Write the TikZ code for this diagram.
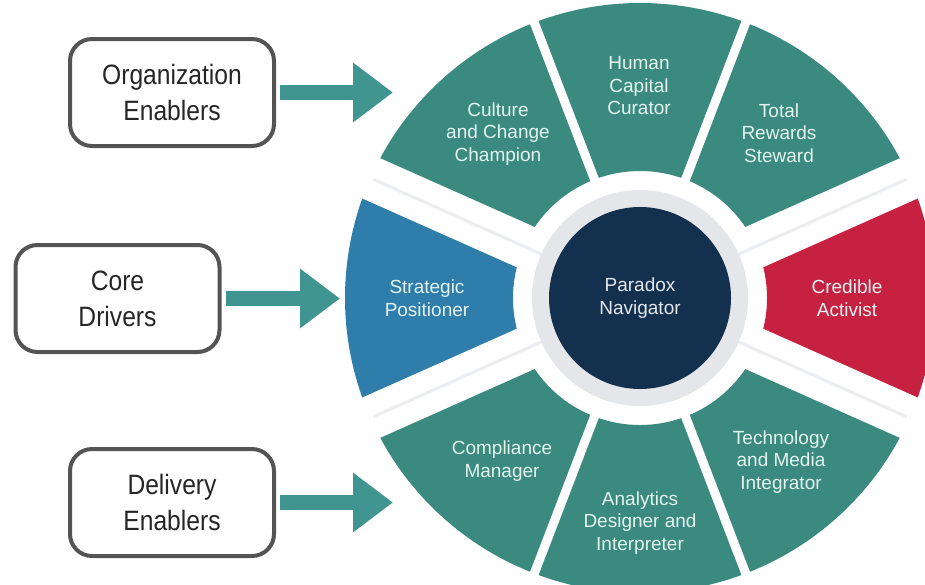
\documentclass[tikz,border=0pt]{standalone}
\usepackage{fontspec}
\setmainfont{Liberation Sans}
\newfontfamily\boxfont[FakeStretch=0.88]{Liberation Sans}
\usetikzlibrary{positioning,arrows.meta}

\definecolor{segteal}{HTML}{3B8A80}
\definecolor{flowteal}{HTML}{409591}
\definecolor{posblue}{HTML}{2F7DAA}
\definecolor{actred}{HTML}{C62141}
\definecolor{navy}{HTML}{14304F}
\definecolor{ringgray}{HTML}{E4E6E9}
\definecolor{segtext}{HTML}{E4F3F0}

\newcommand\rin{127}
\newcommand\rout{295}
% one piece of the wheel between two angles
\newcommand\ringpart[3]{\fill[#1] (#2:\rin) arc[start angle=#2,end angle=#3,radius=\rin] -- (#3:\rout) arc[start angle=#3,end angle=#2,radius=\rout] -- cycle;}

\begin{document}
\begin{tikzpicture}[x=1pt,y=1pt,
  driver/.style={draw=black!67,line width=4pt,rounded corners=22pt,fill=white,align=center,minimum width=204pt,minimum height=107pt,text=black!85,font=\boxfont\fontsize{28}{36}\selectfont},
  flow/.style={flowteal,line width=15pt,shorten <=4pt,-{Triangle[width=57pt,length=40pt]}},
  role/.style={align=center,text=segtext,font=\fontsize{19}{22.5}\selectfont},
  wgap/.style={white,line width=#1},
  seam/.style={ringgray!70!white,line width=3pt}]
  \useasboundingbox (0,0) rectangle (925,-584);
  \clip (0,0) rectangle (925,-584);

  % the wheel
  \begin{scope}[shift={(640,-298)}]
    \ringpart{segteal}{24}{69}
    \ringpart{segteal}{69}{111}
    \ringpart{segteal}{111}{156}
    \ringpart{posblue}{156}{204}
    \ringpart{segteal}{204}{249}
    \ringpart{segteal}{249}{291}
    \ringpart{segteal}{291}{336}
    \ringpart{actred}{336}{384}
    \foreach \a in {24,156,204,336} \draw[wgap=44pt] (0,0) -- (\a:320);
    \foreach \a in {69,111,249,291} \draw[wgap=9pt] (0,0) -- (\a:320);
    \foreach \a in {24,156,204,336} \draw[seam] (\a:108) -- (\a:292);
    \fill[ringgray] (0,0) circle[radius=108];
    \node[circle,fill=navy,minimum size=182pt,inner sep=0pt,role,text=navy!12!white] (nav) at (0,0) {Paradox\\Navigator};
  \end{scope}

  \node[role] (steward) at (779,-133) {Total\\Rewards\\Steward};
  \node[role] (curator) at (639,-86) {Human\\Capital\\Curator};
  \node[role] (culture) at (498,-134) {Culture\\and Change\\Champion};
  \node[role] (strat) at (427,-298) {Strategic\\Positioner};
  \node[role] (activist) at (847,-298) {Credible\\Activist};
  \node[role] (comply) at (502,-461) {Compliance\\Manager};
  \node[role] (analytics) at (640,-523) {Analytics\\Designer and\\Interpreter};
  \node[role] (techmedia) at (781,-462) {Technology\\and Media\\Integrator};

  % groups on the left
  \node[driver] (org) at (172,-92.5) {Organization\\Enablers};
  \node[driver] (core) at (117.5,-298.5) {Core\\Drivers};
  \node[driver] (deliv) at (172,-502.5) {Delivery\\Enablers};

  \coordinate (orgtip) at (393,-92.5);
  \coordinate (coretip) at (340,-298.5);
  \coordinate (delivtip) at (393,-502.5);
  \draw[flow] (org.east) -- (orgtip);
  \draw[flow] (core.east) -- (coretip);
  \draw[flow] (deliv.east) -- (delivtip);
\end{tikzpicture}
\end{document}
